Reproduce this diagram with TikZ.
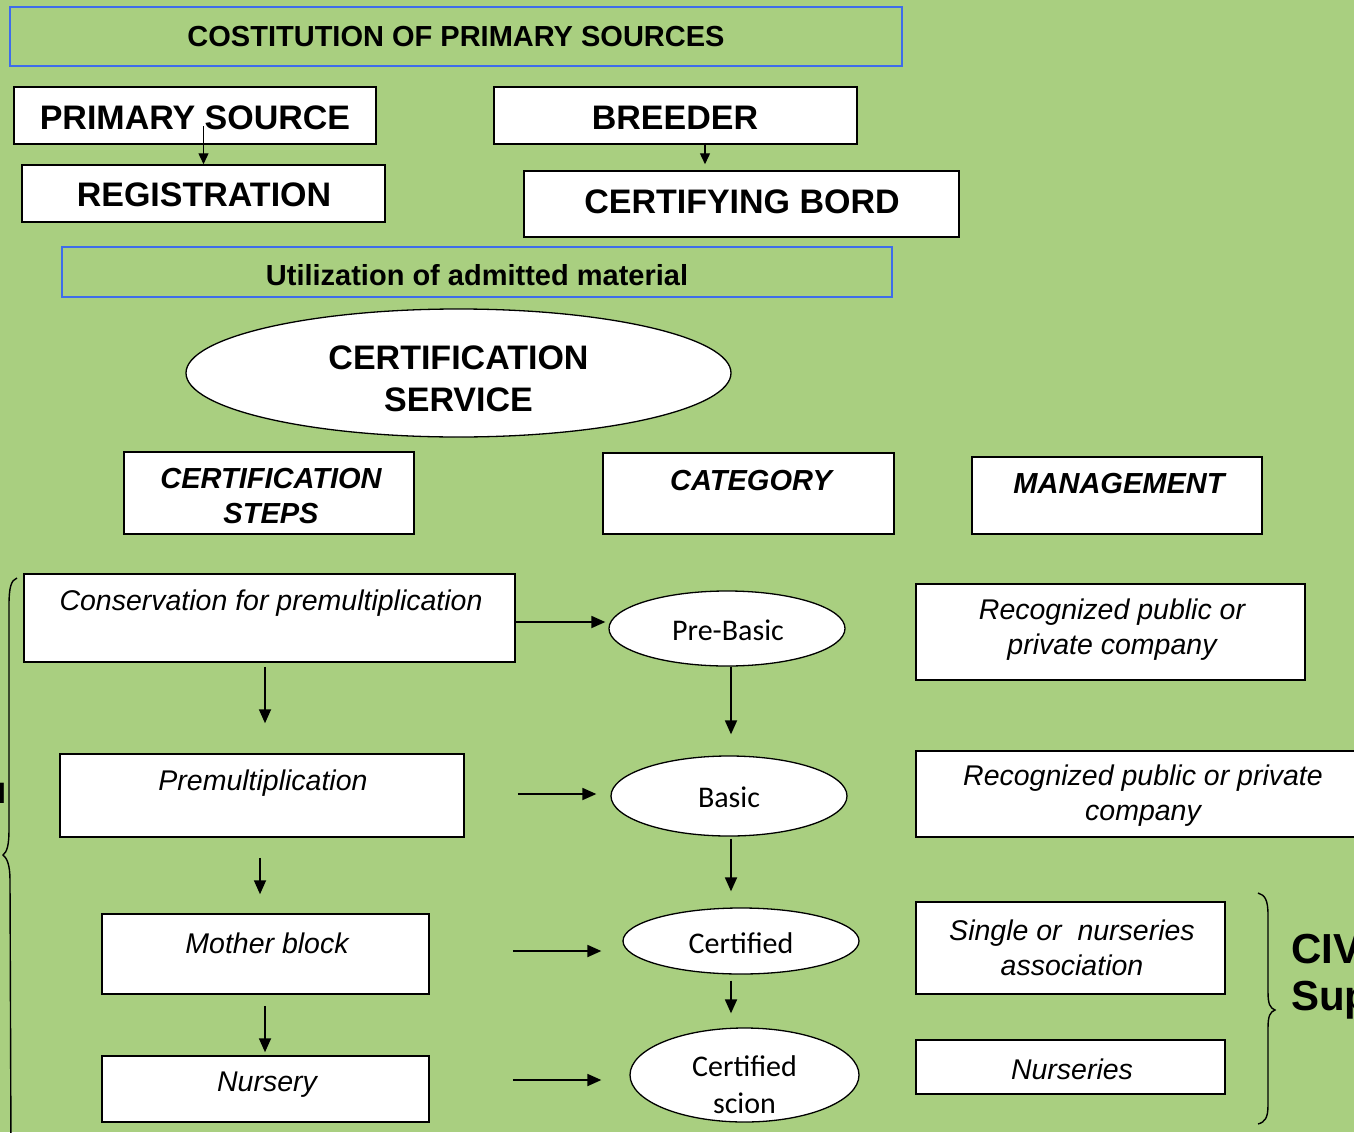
\documentclass[tikz,border=0pt]{standalone}
\usepackage{fontspec}
\setmainfont{Liberation Sans}
\newfontfamily\handfont{Carlito}
\usetikzlibrary{arrows.meta,shapes.geometric,calc}
\definecolor{bggreen}{RGB}{169,207,128}
\definecolor{bordblue}{RGB}{62,108,235}
\tikzset{
  box/.style={draw=black, line width=1.5pt, fill=white, inner sep=0pt},
  bluebox/.style={draw=bordblue, line width=1.3pt, inner sep=0pt},
  oval/.style={ellipse, draw=black, line width=1.3pt, fill=white, inner sep=0pt},
  arr/.style={line width=1.8pt, -{Triangle[length=14pt,width=12pt]}},
  sarr/.style={line width=1.4pt, -{Triangle[length=11pt,width=10pt]}},
  txt/.style={inner sep=0pt, align=center},
  brace/.style={line width=1.4pt},
  bighead/.style={font=\fontsize{34}{40}\selectfont\bfseries},
  medhead/.style={font=\fontsize{29}{35}\selectfont\bfseries},
  headit/.style={font=\fontsize{29}{35}\selectfont\bfseries\itshape},
  stepit/.style={font=\fontsize{28.5}{35}\selectfont\itshape},
  hand/.style={font=\fontsize{30}{37}\selectfont\handfont}
}
\begin{document}
\begin{tikzpicture}[x=1pt,y=-1pt]
\useasboundingbox (0,0) rectangle (1354,1132);
\clip (0,0) rectangle (1354,1132);
\fill[bggreen] (0,0) rectangle (1354,1132);

% top section
\node[bluebox, minimum width=892, minimum height=59, medhead] (title) at (456,36.5) {COSTITUTION OF PRIMARY SOURCES};
\node[box, minimum width=362, minimum height=57] (ps) at (195,115.5) {};
\node[txt, bighead] (pst) at (195,118) {PRIMARY SOURCE};
\node[box, minimum width=363, minimum height=57] (reg) at (203.5,193.5) {};
\node[txt, bighead] (regt) at (204,195) {REGISTRATION};
\node[box, minimum width=363, minimum height=57] (brd) at (675.5,115.5) {};
\node[txt, bighead] (brdt) at (675,118) {BREEDER};
\node[box, minimum width=435, minimum height=66] (cb) at (741.5,204) {};
\node[txt, bighead] (cbt) at (742,202) {CERTIFYING BORD};
\node[bluebox, minimum width=830, minimum height=50] (util) at (477,272) {};
\node[txt, medhead] (utilt) at (477,275) {Utilization of admitted material};

\draw[sarr] ($(reg.north)+(0,-38)$) -- (reg.north);
\draw[sarr] ($(brd.south)+(29.5,-2)$) -- ($(cb.north)+(-36.5,-6)$);

% certification service
\node[oval, minimum width=545, minimum height=128] (cs) at (458.5,373) {};
\node[txt, font=\fontsize{34}{42}\selectfont\bfseries] (cst) at (458.5,379) {CERTIFICATION\\SERVICE};

% headers
\node[box, minimum width=290, minimum height=82] (hsteps) at (269,493) {};
\node[txt, headit] (hstepst) at (271,496) {CERTIFICATION\\STEPS};
\node[box, minimum width=291, minimum height=81] (hcat) at (748.5,493.5) {};
\node[txt, headit] (hcatt) at (751,481) {CATEGORY};
\node[box, minimum width=290, minimum height=77] (hman) at (1117,495.5) {};
\node[txt, headit] (hmant) at (1119,484) {MANAGEMENT};

% steps
\node[box, minimum width=491, minimum height=88] (cons) at (269.5,618) {};
\node[txt, stepit] (const) at (271,603) {Conservation for premultiplication};
\node[box, minimum width=404, minimum height=83] (prem) at (262,795.5) {};
\node[txt, stepit] (premt) at (263,783) {Premultiplication};
\node[box, minimum width=327, minimum height=80] (moth) at (265.5,954) {};
\node[txt, stepit] (motht) at (267,943) {Mother block};
\node[box, minimum width=327, minimum height=66] (nurs) at (265.5,1089) {};
\node[txt, stepit] (nurst) at (267,1085) {Nursery};

% categories
\node[oval, minimum width=236, minimum height=75] (pb) at (727,628.5) {};
\node[txt, hand] (pbt) at (728,630) {Pre-Basic};
\node[oval, minimum width=236, minimum height=80] (bas) at (729,796) {};
\node[txt, hand] (bast) at (729,797) {Basic};
\node[oval, minimum width=236, minimum height=66] (cer) at (741,941) {};
\node[txt, hand] (cert) at (741,943) {Certified};
\node[oval, minimum width=229, minimum height=94] (sci) at (744.5,1075) {};
\node[txt, hand] (scit) at (744.5,1085) {Certified\\scion};

% management
\node[box, minimum width=389, minimum height=96] (m1) at (1110.5,632) {};
\node[txt, stepit] (m1t) at (1112,630) {Recognized public or\\private company};
\node[box, minimum width=454, minimum height=86] (m2) at (1143,794) {};
\node[txt, stepit] (m2t) at (1143,796) {Recognized public or private\\company};
\node[box, minimum width=309, minimum height=92] (m3) at (1070.5,948) {};
\node[txt, stepit] (m3t) at (1072,948) {Single or\ \ nurseries\\association};
\node[box, minimum width=309, minimum height=54] (m4) at (1070.5,1067) {};
\node[txt, stepit] (m4t) at (1072,1069) {Nurseries};

% vertical arrows, steps
\draw[arr] ($(cons.south)+(-4.5,4)$) -- ($(prem.north)+(3,-30)$);
\draw[arr] ($(prem.south)+(-2,20)$) -- ($(moth.north)+(-5.5,-19)$);
\draw[arr] ($(moth.south)+(-0.5,11)$) -- ($(nurs.north)+(-0.5,-3)$);

% vertical arrows, categories
\draw[arr] ($(pb.south)+(4,0)$) -- ($(bas.north)+(2,-21)$);
\draw[arr] ($(bas.south)+(2,2)$) -- ($(cer.north)+(-10,-16)$);
\draw[arr] ($(cer.south)+(-10,6)$) -- ($(sci.north)+(-13.5,-14)$);

% horizontal arrows
\draw[arr] ($(cons.east)+(0,4)$) -- ($(pb.west)+(-3,-6.5)$);
\draw[arr] ($(prem.east)+(53,-1.5)$) -- ($(bas.west)+(-14,-2)$);
\draw[arr] ($(moth.east)+(83,-3)$) -- ($(cer.west)+(-21,10)$);
\draw[arr] ($(nurs.east)+(83,-9)$) -- ($(sci.west)+(-28,5)$);

% braces
\draw[brace] (17,578) .. controls (11,580) and (9,588) .. (9,605) -- (9,830)
  .. controls (9,845) and (7,852) .. (3,855)
  .. controls (7,858) and (10,865) .. (10,880) -- (11,1150);
\draw[brace] (1258,893) .. controls (1265,895) and (1268,900) .. (1268,915) -- (1268,992)
  .. controls (1268,1004) and (1270,1008) .. (1275,1010)
  .. controls (1270,1012) and (1268,1016) .. (1268,1028) -- (1268,1105)
  .. controls (1268,1118) and (1265,1122) .. (1258,1124);

% texts cut off at the picture's edges, as in the reference
\node[anchor=west, inner sep=0pt, align=left, font=\fontsize{42}{47}\selectfont\bfseries] (civ) at (1291,977) {CIV\\Sup};
\node[anchor=east, inner sep=0pt, font=\fontsize{28}{32}\selectfont\bfseries] (lcut) at (6,793) {l};
\end{tikzpicture}
\end{document}
